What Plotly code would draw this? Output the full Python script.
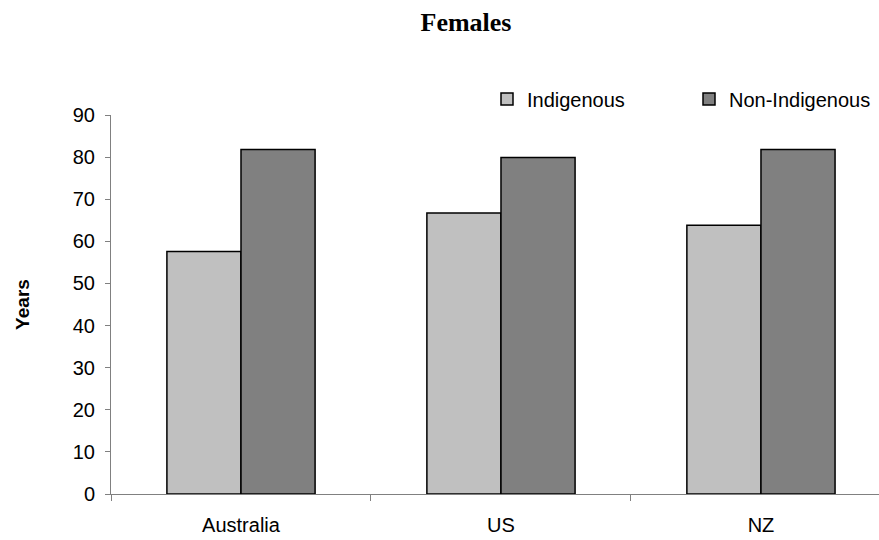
import plotly.graph_objects as go

# Life expectancy at birth, females (years)
countries = ["Australia", "US", "NZ"]
indigenous = [57.6, 66.7, 63.8]
non_indigenous = [81.8, 79.9, 81.8]
y_ticks = [0, 10, 20, 30, 40, 50, 60, 70, 80, 90]

W, H = 879, 540
L, R, T, B = 111, 0, 115, 46
PW = W - L - R
PH = H - T - B

sans = "Liberation Sans, Arial, sans-serif"

fig = go.Figure()
fig.add_trace(go.Bar(
    name="Indigenous", x=countries, y=indigenous,
    marker=dict(color="#c0c0c0", line=dict(color="#000000", width=1.5)),
))
fig.add_trace(go.Bar(
    name="Non-Indigenous", x=countries, y=non_indigenous,
    marker=dict(color="#808080", line=dict(color="#000000", width=1.5)),
))

fig.update_layout(
    width=W, height=H,
    margin=dict(l=L, r=R, t=T, b=B, autoexpand=False),
    paper_bgcolor="white", plot_bgcolor="white",
    barmode="group", bargap=0.43, bargroupgap=0,
    font=dict(family=sans, size=20, color="#000000"),
    title=dict(
        text="<b>Females</b>",
        font=dict(family="Liberation Serif, Times New Roman, serif", size=26),
        x=466 / W, xanchor="center", y=1 - 22 / H, yanchor="middle",
    ),
    legend=dict(
        orientation="h",
        x=(487 - L) / PW, xanchor="left",
        y=1 + (T - 99) / PH, yanchor="middle",
        entrywidth=157, entrywidthmode="pixels",
        font=dict(family=sans, size=20),
        bgcolor="rgba(0,0,0,0)",
    ),
    showlegend=True,
)

fig.update_xaxes(
    type="category",
    range=[-0.5, 2.454],
    showline=True, linecolor="#808080", linewidth=1,
    ticks="outside", tickson="boundaries", ticklen=6, tickcolor="#808080",
    showgrid=False, zeroline=False,
    ticklabelstandoff=13,
    tickfont=dict(family=sans, size=20),
)
fig.update_yaxes(
    range=[0, 90],
    tickvals=y_ticks,
    showline=True, linecolor="#808080", linewidth=1,
    ticks="outside", ticklen=5, tickcolor="#808080",
    showgrid=False, zeroline=False,
    ticklabelstandoff=6,
    tickfont=dict(family=sans, size=20),
    title=dict(text="<b>Years</b>", font=dict(family=sans, size=19), standoff=38),
)

fig.write_html("out.html")
